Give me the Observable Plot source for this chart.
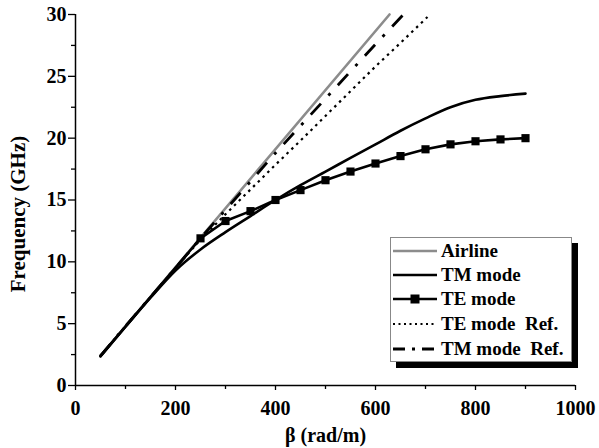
<!DOCTYPE html>
<html><head><meta charset="utf-8">
<script src="https://cdn.jsdelivr.net/npm/d3@7"></script>
<script src="https://cdn.jsdelivr.net/npm/@observablehq/plot@0.6"></script>
<style>
body{margin:0;background:#fff;}
#wrap{position:relative;width:599px;height:448px;}
#legend{position:absolute;left:390px;top:237px;width:182px;height:125px;border:1px solid #888;box-shadow:6px 6px 0 #000;background:#fff;font-family:"Liberation Serif","Times New Roman",serif;font-weight:bold;font-size:19px;box-sizing:border-box;}
.row{position:absolute;left:2px;height:24px;display:flex;align-items:center;white-space:pre;color:#000;}
.row svg{margin-right:4px;}
</style></head><body><div id="wrap"></div>
<script>
// Data (β in rad/m, frequency in GHz)
const airlineBeta = [50, 628];
const airlineFreq = [2.39, 30];
const tmBeta = [50,100,150,200,250,300,350,400,450,500,550,600,650,700,750,800,850,900];
const tmFreq = [2.35,4.75,7.1,9.3,11.0,12.4,13.7,15.0,16.2,17.3,18.4,19.5,20.6,21.6,22.5,23.1,23.4,23.6];
const teBeta = [50,250,300,350,400,450,500,550,600,650,700,750,800,850,900];
const teFreq = [2.4,11.9,13.3,14.1,15.0,15.8,16.6,17.3,17.95,18.55,19.1,19.5,19.75,19.9,20.0];
const teRefBeta = [50,100,150,200,250,300,350,400,450,500,550,600,650,704];
const teRefFreq = [2.4,4.8,7.15,9.5,11.8,13.85,15.85,17.85,19.8,21.8,23.8,25.8,27.7,29.8];
const tmRefBeta = [50,100,150,200,250,300,350,400,450,500,550,600,656];
const tmRefFreq = [2.4,4.8,7.15,9.5,11.9,14.2,16.5,18.8,21.0,23.2,25.4,27.6,30];
const xTicks = [0,200,400,600,800,1000];
const xMinor = [100,300,500,700,900];
const yTicks = [0,5,10,15,20,25,30];
const yMinor = [2.5,7.5,12.5,17.5,22.5,27.5];
const xLabel = "β (rad/m)";
const yLabel = "Frequency (GHz)";
const legendLabels = ["Airline","TM mode","TE mode","TE mode  Ref.","TM mode  Ref."];

const pts = (bs, fs) => bs.map((b, i) => ({b, f: fs[i]}));
const airline = pts(airlineBeta, airlineFreq);
const tm = pts(tmBeta, tmFreq);
const te = pts(teBeta, teFreq);
const teRef = pts(teRefBeta, teRefFreq);
const tmRef = pts(tmRefBeta, tmRefFreq);
const fmt = d => String(d);

const chart = Plot.plot({
  width: 599, height: 448,
  marginLeft: 75, marginRight: 24, marginTop: 14, marginBottom: 63,
  x: {domain: [0, 1000]},
  y: {domain: [0, 30]},
  style: {fontFamily: "'Liberation Serif','Times New Roman',serif", fontWeight: "bold", fontSize: "20px", color: "#000", background: "#fff"},
  marks: [
    Plot.axisX(xMinor, {tickSize: 4, tickFormat: () => "", label: null, strokeWidth: 1.3}),
    Plot.axisX(xTicks, {tickSize: 5, tickPadding: 10, tickFormat: fmt, label: null, fontSize: 20, strokeWidth: 1.3}),
    Plot.axisY(yMinor, {tickSize: 4, tickFormat: () => "", label: null, strokeWidth: 1.3}),
    Plot.axisY(yTicks, {tickSize: 7, tickPadding: 2, tickFormat: fmt, label: null, fontSize: 20, strokeWidth: 1.3}),
    Plot.text([xLabel], {frameAnchor: "bottom", textAnchor: "middle", lineAnchor: "middle", dy: 50, fontSize: 20}),
    Plot.text([yLabel], {frameAnchor: "left", textAnchor: "middle", lineAnchor: "middle", rotate: -90, dx: -57, dy: 14, fontSize: 21}),
    Plot.ruleX([0], {strokeWidth: 1.5}),
    Plot.ruleY([0], {strokeWidth: 1.5}),
    Plot.line(airline, {x: "b", y: "f", stroke: "#8c8c8c", strokeWidth: 2.6}),
    Plot.line(teRef, {x: "b", y: "f", stroke: "#000", strokeWidth: 2.2, strokeDasharray: "2.5,4.2", strokeLinecap: "butt"}),
    Plot.line(tmRef, {x: "b", y: "f", stroke: "#000", strokeWidth: 2.8, strokeDasharray: "15,11,3,11", strokeLinecap: "butt"}),
    Plot.line(tm, {x: "b", y: "f", stroke: "#000", strokeWidth: 2.6, curve: "monotone-x"}),
    Plot.line(te, {x: "b", y: "f", stroke: "#000", strokeWidth: 2.6}),
    Plot.dot(te.slice(1), {x: "b", y: "f", symbol: "square", fill: "#000", r: 4.6})
  ]
});
const wrap = document.getElementById("wrap");
wrap.appendChild(chart);

// Legend
const legend = document.createElement("div");
legend.id = "legend";
const swatches = [
  `<line x1="0" y1="6" x2="44" y2="6" stroke="#8c8c8c" stroke-width="2.6"/>`,
  `<line x1="0" y1="6" x2="44" y2="6" stroke="#000" stroke-width="2.6"/>`,
  `<line x1="0" y1="6" x2="44" y2="6" stroke="#000" stroke-width="2.6"/><rect x="17.5" y="1.5" width="9" height="9" fill="#000"/>`,
  `<line x1="0" y1="6" x2="44" y2="6" stroke="#000" stroke-width="2" stroke-dasharray="2,3.5"/>`,
  `<line x1="0" y1="6" x2="44" y2="6" stroke="#000" stroke-width="2.8" stroke-dasharray="12,7,3,7"/>`
];
const centers = [13, 37, 61, 86, 111];
legendLabels.forEach((lab, i) => {
  const row = document.createElement("div");
  row.className = "row";
  row.style.top = (centers[i] - 12) + "px";
  row.innerHTML = `<svg width="44" height="12">${swatches[i]}</svg><span>${lab}</span>`;
  legend.appendChild(row);
});
wrap.appendChild(legend);
</script>
</body></html>
